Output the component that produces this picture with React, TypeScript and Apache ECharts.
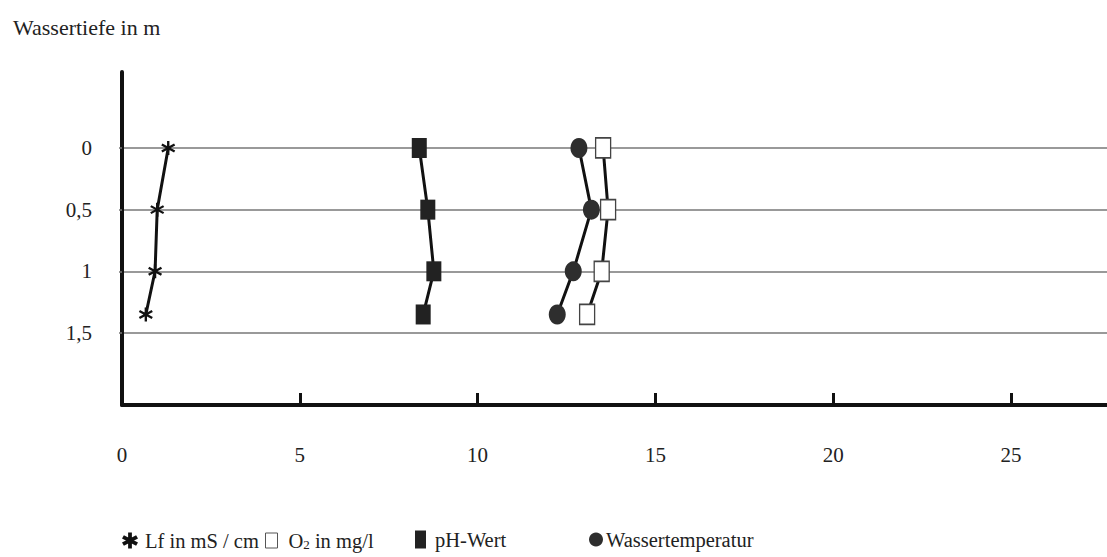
import React, { useEffect, useRef } from "react";
import * as echarts from "echarts";

const depths = [0, 0.5, 1, 1.35];
const lfValues = [1.3, 0.99, 0.93, 0.67];
const o2Values = [13.53, 13.67, 13.49, 13.08];
const phValues = [8.36, 8.6, 8.77, 8.47];
const tempValues = [12.85, 13.2, 12.69, 12.24];
const depthTicks = [0, 0.5, 1, 1.5];
const seriesNames = ["Lf in mS / cm", "O2 in mg/l", "pH-Wert", "Wassertemperatur"];

const FONT = "'Liberation Serif', 'Times New Roman', serif";
const STAR =
  "path://M42 0 L58 0 L58 100 L42 100 Z M2.7 31.9 L10.7 18.1 L97.3 68.1 L89.3 81.9 Z M89.3 18.1 L97.3 31.9 L10.7 81.9 L2.7 68.1 Z";
const STAR_BOLD =
  "path://M38 0 L62 0 L62 100 L38 100 Z M-0.7 37.8 L11.3 17 L100.7 62.2 L88.7 83 Z M88.7 17 L100.7 37.8 L11.3 83 L-0.7 62.2 Z";

function pairs(xs: number[]) {
  return xs.map((x, i) => [x, depths[i]]);
}

export default function App() {
  const ref = useRef<HTMLDivElement>(null);
  useEffect(() => {
    if (!ref.current) return;
    const chart = echarts.init(ref.current, undefined, { renderer: "svg" });
    const lineStyle = { color: "#111", width: 3 };
    const legendText = { fontFamily: FONT, fontSize: 20.5, color: "#222" };
    chart.setOption({
      animation: false,
      backgroundColor: "#fff",
      title: {
        text: "Wassertiefe in m",
        left: 8,
        top: 11,
        textStyle: { fontFamily: FONT, fontSize: 22, fontWeight: "normal", color: "#222" },
      },
      grid: { left: 122, right: 0, top: 72, bottom: 152 },
      xAxis: {
        type: "value",
        min: 0,
        max: 27.7,
        interval: 5,
        axisLine: { show: true, onZero: false, lineStyle: { color: "#111", width: 4 } },
        axisTick: { show: true, inside: true, length: 12, lineStyle: { color: "#111", width: 3 } },
        axisLabel: { margin: 39, fontFamily: FONT, fontSize: 21, color: "#222", showMaxLabel: false },
        splitLine: { show: false },
      },
      yAxis: {
        type: "value",
        inverse: true,
        min: -0.616,
        max: 2.084,
        axisLine: { show: true, onZero: false, lineStyle: { color: "#111", width: 4 } },
        axisTick: { show: true, length: 3, customValues: depthTicks, lineStyle: { color: "#777", width: 1.5 } },
        axisLabel: {
          customValues: depthTicks,
          margin: 30,
          fontFamily: FONT,
          fontSize: 21,
          color: "#222",
          formatter: (v: number) => String(v).replace(".", ","),
        },
        splitLine: { show: true, lineStyle: { color: "#777", width: 1.5 } },
      },
      legend: [
        {
          data: [{ name: seriesNames[0], icon: STAR_BOLD }],
          left: 117,
          top: 525,
          itemWidth: 16,
          itemHeight: 16,
          textStyle: { ...legendText, padding: [0, 0, 0, 2] },
        },
        {
          data: [{ name: seriesNames[1], icon: "rect" }],
          left: 260,
          top: 525,
          itemWidth: 12,
          itemHeight: 15,
          itemStyle: { borderWidth: 1, borderColor: "#555" },
          formatter: () => "{a|O}{b|2}{a| in mg/l}",
          textStyle: {
            ...legendText,
            padding: [0, 0, 0, 6],
            rich: {
              a: { fontFamily: FONT, fontSize: 20.5, color: "#222" },
              b: { fontFamily: FONT, fontSize: 13, color: "#222", verticalAlign: "bottom", padding: [8, 0, 0, 0] },
            },
          },
        },
        {
          data: [{ name: seriesNames[2], icon: "rect" }],
          left: 410,
          top: 524,
          itemWidth: 11,
          itemHeight: 18,
          textStyle: { ...legendText, padding: [0, 0, 0, 4] },
        },
        {
          data: [{ name: seriesNames[3], icon: "circle" }],
          left: 584,
          top: 524,
          itemWidth: 14,
          itemHeight: 18,
          textStyle: { ...legendText, padding: [0, 0, 0, -2] },
        },
      ],
      series: [
        {
          name: seriesNames[0],
          type: "line",
          data: pairs(lfValues),
          symbol: STAR,
          symbolSize: 14,
          lineStyle,
          itemStyle: { color: "#111" },
        },
        {
          name: seriesNames[1],
          type: "line",
          data: pairs(o2Values),
          symbol: "rect",
          symbolSize: [15, 20],
          lineStyle,
          itemStyle: { color: "#fff", borderColor: "#444", borderWidth: 1.5 },
        },
        {
          name: seriesNames[2],
          type: "line",
          data: pairs(phValues),
          symbol: "rect",
          symbolSize: [15, 20],
          lineStyle,
          itemStyle: { color: "#222", borderColor: "#222", borderWidth: 0 },
        },
        {
          name: seriesNames[3],
          type: "line",
          data: pairs(tempValues),
          symbol: "circle",
          symbolSize: [17, 20],
          lineStyle,
          itemStyle: { color: "#2e2e2e", borderWidth: 0 },
        },
      ],
    });
    return () => chart.dispose();
  }, []);
  return (
    <div
      ref={ref}
      style={{ position: "absolute", left: 0, top: 0, width: 1107, height: 557, background: "#fff" }}
    />
  );
}
